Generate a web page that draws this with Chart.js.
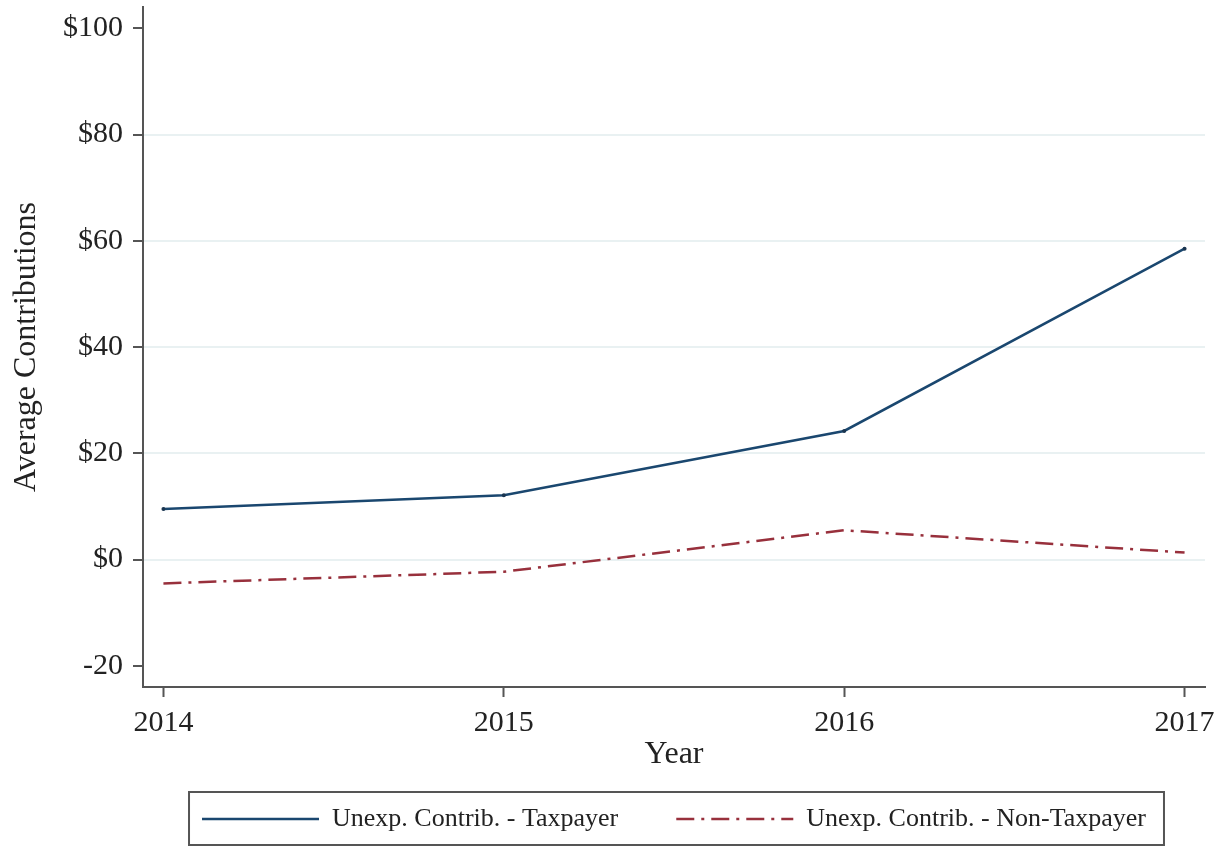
<!DOCTYPE html>
<html>
<head>
<meta charset="utf-8">
<script src="https://cdn.jsdelivr.net/npm/chart.js@4"></script>
<style>
  html, body { margin: 0; padding: 0; background: #ffffff; }
  #wrap { width: 1227px; height: 850px; position: relative; }
</style>
</head>
<body>
<div id="wrap"><canvas id="c" width="1227" height="850"></canvas></div>
<script>
// ---- data ----
const years = [2014, 2015, 2016, 2017];
const taxpayer = [9.5, 12.1, 24.2, 58.5];
const nonTaxpayer = [-4.5, -2.3, 5.5, 1.3];
const seriesNames = ['Unexp. Contrib. - Taxpayer', 'Unexp. Contrib. - Non-Taxpayer'];
const yTickValues = [-20, 0, 20, 40, 60, 80, 100];
const yTickLabels = ['-20', '$0', '$20', '$40', '$60', '$80', '$100'];
const gridValues = [0, 20, 40, 60, 80];
const xTitle = 'Year';
const yTitle = 'Average Contributions';

const FONT = "'Liberation Serif', 'DejaVu Serif', serif";

const legendBorder = {
  id: 'legendBorder',
  afterDraw(chart) {
    const lg = chart.legend;
    if (!lg || !lg.legendHitBoxes || !lg.legendHitBoxes.length) return;
    const hb = lg.legendHitBoxes;
    const first = hb[0], last = hb[hb.length - 1];
    const left = first.left - 13;
    const right = last.left + last.width + 18;
    const top = first.top - 14;
    const bottom = first.top + first.height + 13;
    const ctx = chart.ctx;
    ctx.save();
    ctx.strokeStyle = '#555555';
    ctx.lineWidth = 2;
    ctx.strokeRect(left, top, right - left, bottom - top);
    ctx.restore();
  }
};

new Chart(document.getElementById('c'), {
  type: 'line',
  data: {
    datasets: [
      {
        label: seriesNames[0],
        data: years.map((y, i) => ({ x: y, y: taxpayer[i] })),
        borderColor: '#1a476f',
        backgroundColor: '#1a476f',
        borderWidth: 2.5,
        pointRadius: 2,
        pointBorderWidth: 0,
        pointBackgroundColor: '#1a3550',
        tension: 0
      },
      {
        label: seriesNames[1],
        data: years.map((y, i) => ({ x: y, y: nonTaxpayer[i] })),
        borderColor: '#98303c',
        backgroundColor: '#98303c',
        borderWidth: 2.5,
        borderDash: [18, 7, 3, 7],
        pointRadius: 0,
        tension: 0
      }
    ]
  },
  options: {
    responsive: false,
    animation: false,
    layout: { padding: { top: 7, right: 22, bottom: 8, left: 0 } },
    plugins: {
      tooltip: { enabled: false },
      legend: {
        position: 'bottom',
        fullSize: false,
        labels: {
          usePointStyle: true,
          pointStyle: 'line',
          pointStyleWidth: 117,
          padding: 58,
          color: '#222222',
          font: { family: FONT, size: 26 },
          generateLabels: (chart) => chart.data.datasets.map((ds, i) => ({
            text: ds.label,
            datasetIndex: i,
            hidden: false,
            pointStyle: 'line',
            strokeStyle: ds.borderColor,
            fillStyle: ds.borderColor,
            lineWidth: ds.borderWidth,
            lineDash: ds.borderDash || [],
            fontColor: '#222222'
          }))
        }
      }
    },
    scales: {
      x: {
        type: 'linear',
        min: 2013.94,
        max: 2017.06,
        afterBuildTicks(s) { s.ticks = years.map(v => ({ value: v })); },
        afterFit(s) { s.height = 61; s.paddingLeft = 0; s.paddingRight = 0; },
        ticks: {
          autoSkip: false,
          maxRotation: 0,
          padding: 8,
          color: '#222222',
          font: { family: FONT, size: 30 },
          callback: (v) => String(v)
        },
        grid: {
          drawOnChartArea: false,
          drawTicks: true,
          tickLength: 10,
          tickWidth: 2,
          tickColor: '#555555'
        },
        border: { display: true, color: '#555555', width: 2 },
        title: {
          display: true,
          text: xTitle,
          color: '#222222',
          font: { family: FONT, size: 32, lineHeight: 1 },
          padding: { top: 0, bottom: -23 }
        }
      },
      y: {
        type: 'linear',
        min: -24,
        max: 104,
        afterBuildTicks(s) { s.ticks = yTickValues.map(v => ({ value: v })); },
        afterFit(s) { s.width = 143; s.paddingTop = 0; s.paddingBottom = 0; },
        ticks: {
          autoSkip: false,
          padding: 10,
          color: '#222222',
          font: { family: FONT, size: 30 },
          callback: (v) => {
            const i = yTickValues.indexOf(v);
            return i >= 0 ? yTickLabels[i] : '';
          }
        },
        grid: {
          drawOnChartArea: true,
          drawTicks: true,
          tickLength: 10,
          tickWidth: 2,
          tickColor: '#555555',
          lineWidth: 2,
          color: (ctx) => (ctx.tick && gridValues.includes(ctx.tick.value)) ? '#e9f1f2' : 'rgba(0,0,0,0)'
        },
        border: { display: true, color: '#555555', width: 2 },
        title: {
          display: true,
          text: yTitle,
          color: '#222222',
          font: { family: FONT, size: 32, lineHeight: 1 },
          padding: { top: 11, bottom: 0 }
        }
      }
    }
  },
  plugins: [legendBorder]
});
</script>
</body>
</html>
